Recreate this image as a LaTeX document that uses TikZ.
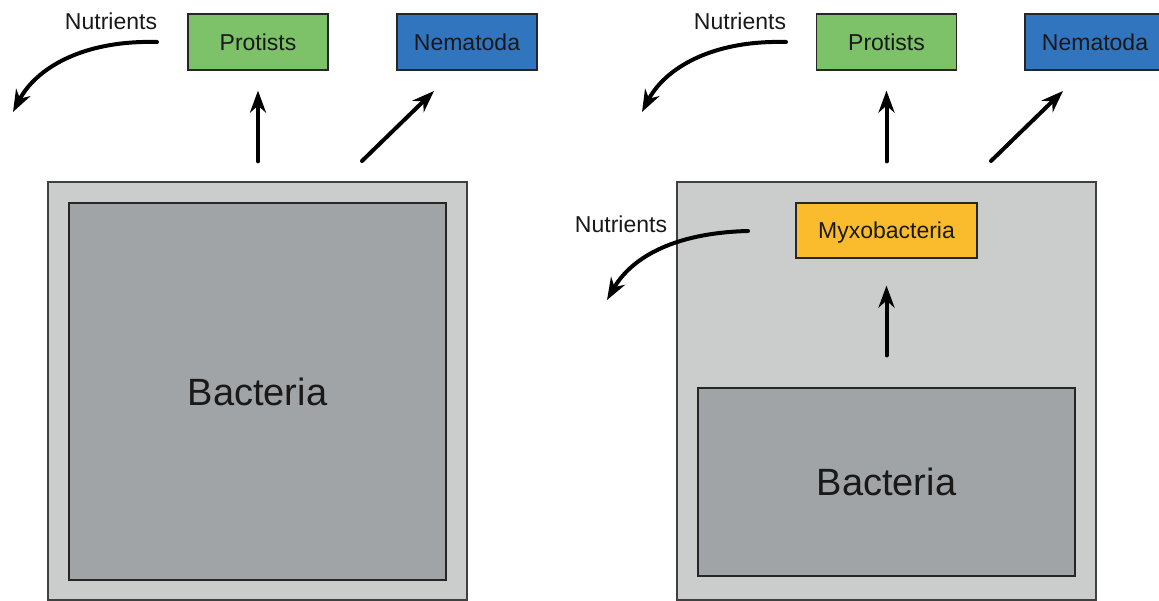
\documentclass[tikz,border=0pt]{standalone}
\usepackage{fontspec}
\setmainfont{Liberation Sans}
\usetikzlibrary{arrows.meta,positioning}
\definecolor{protistgreen}{RGB}{125,194,104}
\definecolor{nemablue}{RGB}{48,117,190}
\definecolor{myxoyellow}{RGB}{250,188,45}
\definecolor{soilgray}{RGB}{203,205,205}
\definecolor{bactgray}{RGB}{160,164,167}

\begin{document}
\begin{tikzpicture}
  [
    x=1pt,y=-1pt,
    every node/.style={font=\fontsize{23}{27}\selectfont,text=black!90},
    organism/.style={rectangle,draw=black!85,line width=1.2pt,minimum width=140pt,minimum height=56pt,inner sep=0pt,text depth=0pt},
    soil/.style={rectangle,draw=black!75,fill=soilgray,line width=1.2pt,inner sep=0pt},
    bact/.style={rectangle,draw=black!85,fill=bactgray,line width=1.2pt,inner sep=0pt,font=\fontsize{38}{44}\selectfont},
    flow/.style={-{Stealth[length=22pt,width=16pt,inset=7pt]},line width=4pt,line cap=round},
    gap/.style={shorten <=20pt,shorten >=20pt}
  ]
  \clip (0,0) rectangle (1159,601);

  % left: bacteria only
  \node[soil,minimum width=419pt,minimum height=418pt] (soil a) at (257.5,391) {};
  \node[bact,minimum width=377pt,minimum height=377pt] (bact a) at (257.5,391.5) {Bacteria};
  \node[organism,fill=protistgreen] (protists a) at (258,42) {Protists};
  \node[organism,fill=nemablue] (nematoda a) at (467,42) {Nematoda};
  \node (nutr a) at (111,21) {Nutrients};
  \coordinate (nutr a from) at (157,42);
  \coordinate (nutr a to) at (13,112);
  \coordinate (nema a from) at (362,161);
  \coordinate (nema a to) at (434,91);
  \draw[flow,gap] (soil a.north -| protists a.south) -- (protists a.south);
  \draw[flow] (nema a from) -- (nema a to);
  \draw[flow] (nutr a from) .. controls (80,40) and (35,70) .. (nutr a to);

  % right: with myxobacteria
  \node[soil,minimum width=419pt,minimum height=418pt] (soil b) at (886.5,391) {};
  \node[bact,minimum width=377pt,minimum height=188pt] (bact b) at (886.5,482) {Bacteria};
  \node[organism,fill=myxoyellow,minimum width=181pt,minimum height=55pt] (myxo) at (886.5,230.5) {Myxobacteria};
  \node[organism,fill=protistgreen] (protists b) at (886.5,42) {Protists};
  \node[organism,fill=nemablue] (nematoda b) at (1095,42) {Nematoda};
  \node (nutr b) at (740,21) {Nutrients};
  \node (nutr c) at (621,224) {Nutrients};
  \coordinate (nutr b from) at (786,42);
  \coordinate (nutr b to) at (642,112);
  \coordinate (nutr c from) at (748,231);
  \coordinate (nutr c to) at (607,300);
  \coordinate (nema b from) at (991,161);
  \coordinate (nema b to) at (1063,91);
  \draw[flow,gap] (soil b.north -| protists b.south) -- (protists b.south);
  \draw[flow] (nema b from) -- (nema b to);
  \draw[flow,shorten <=32pt,shorten >=27pt] (bact b.north -| myxo.south) -- (myxo.south);
  \draw[flow] (nutr b from) .. controls (709,40) and (664,70) .. (nutr b to);
  \draw[flow] (nutr c from) .. controls (670,233) and (630,260) .. (nutr c to);
\end{tikzpicture}
\end{document}
